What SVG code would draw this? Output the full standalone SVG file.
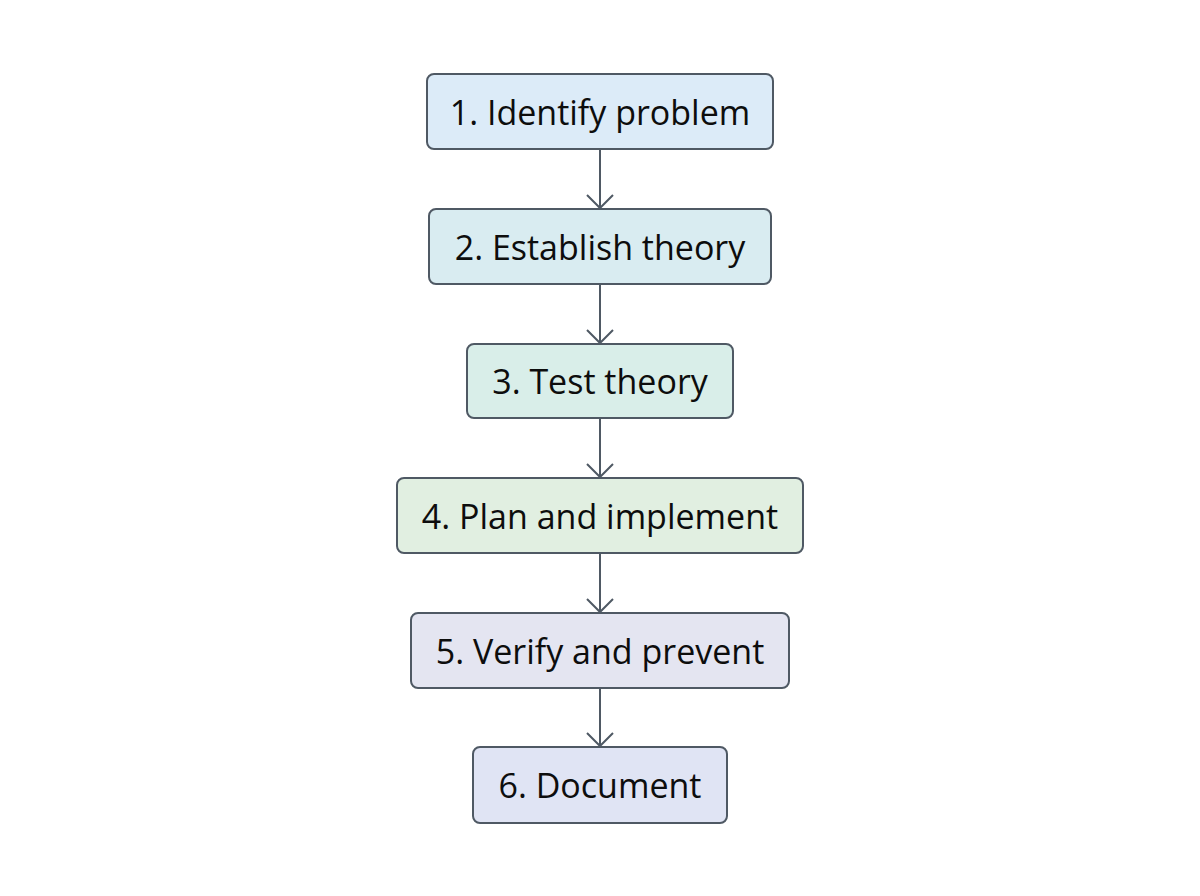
<svg xmlns="http://www.w3.org/2000/svg" width="1200" height="896" viewBox="0 0 1200 896">
<defs>
<style>
.box{stroke:#4f5964;stroke-width:2}
.lbl{font-family:"Open Sans","Noto Sans",sans-serif;font-size:34px;fill:#0d0d0d;text-anchor:middle;dominant-baseline:central}
.edge{stroke:#4f5964;stroke-width:2;fill:none}
</style>
<marker id="arr" viewBox="0 0 30 30" refX="28" refY="15" markerWidth="30" markerHeight="30" markerUnits="userSpaceOnUse" orient="auto">
<path d="M15,2 L28,15 L15,28" fill="none" stroke="#4f5964" stroke-width="2"/>
</marker>
</defs>
<rect width="1200" height="896" fill="#ffffff"/>
<g id="connectors">
<line class="edge" x1="600" y1="150" x2="600" y2="208" marker-end="url(#arr)"/>
<line class="edge" x1="600" y1="285" x2="600" y2="343" marker-end="url(#arr)"/>
<line class="edge" x1="600" y1="419" x2="600" y2="477" marker-end="url(#arr)"/>
<line class="edge" x1="600" y1="554" x2="600" y2="612" marker-end="url(#arr)"/>
<line class="edge" x1="600" y1="689" x2="600" y2="746" marker-end="url(#arr)"/>
</g>
<g id="n1"><rect class="box" x="427" y="74" width="346" height="75" rx="7" fill="#dcebf8"/><text class="lbl" x="600" y="112">1. Identify problem</text></g>
<g id="n2"><rect class="box" x="429" y="209" width="342" height="75" rx="7" fill="#d9ecf1"/><text class="lbl" x="600" y="247">2. Establish theory</text></g>
<g id="n3"><rect class="box" x="467" y="344" width="266" height="74" rx="7" fill="#d9eee9"/><text class="lbl" x="600" y="381">3. Test theory</text></g>
<g id="n4"><rect class="box" x="397" y="478" width="406" height="75" rx="7" fill="#e1efe1"/><text class="lbl" x="600" y="516">4. Plan and implement</text></g>
<g id="n5"><rect class="box" x="411" y="613" width="378" height="75" rx="7" fill="#e4e5f1"/><text class="lbl" x="600" y="651">5. Verify and prevent</text></g>
<g id="n6"><rect class="box" x="473" y="747" width="254" height="76" rx="7" fill="#e0e4f4"/><text class="lbl" x="600" y="785">6. Document</text></g>
</svg>
